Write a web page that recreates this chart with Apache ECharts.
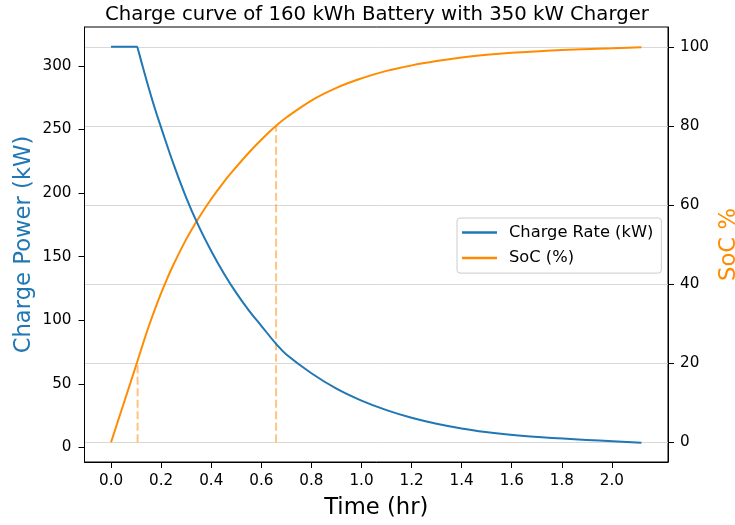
<!DOCTYPE html>
<html>
<head>
<meta charset="utf-8">
<script src="https://cdn.jsdelivr.net/npm/echarts@6/dist/echarts.min.js"></script>
<style>html,body{margin:0;padding:0;background:#fff}#c{width:735px;height:525px}</style>
</head>
<body>
<div id="c"></div>
<script>
// ---- data ----
const powerTime = [0, 0.105, 0.106, 0.125, 0.15, 0.175, 0.2, 0.25, 0.3, 0.35, 0.4, 0.45, 0.5, 0.55, 0.6, 0.659, 0.7, 0.8, 0.9, 1.0, 1.1, 1.2, 1.3, 1.4, 1.52, 1.72, 2.118];
const powerKW   = [315, 315, 315, 300.5, 283, 266.5, 251.5, 222.5, 196.5, 174, 154.5, 137, 121.5, 107.8, 95.6, 81.4, 73.0, 58.3, 46.2, 36.8, 29.3, 23.3, 18.6, 14.9, 11.5, 7.9, 3.7];
const socTime   = [0, 0.106, 0.125, 0.15, 0.175, 0.2, 0.225, 0.25, 0.3, 0.35, 0.4, 0.45, 0.5, 0.55, 0.6, 0.659, 0.7, 0.8, 0.9, 1.0, 1.1, 1.2, 1.3, 1.4, 1.5, 1.6, 1.8, 2.0, 2.118];
const socPct    = [0, 20.6, 24.4, 29.2, 33.6, 37.7, 41.5, 45.0, 51.3, 56.7, 61.5, 65.8, 69.6, 73.2, 76.5, 80, 82.1, 86.4, 89.6, 92, 93.9, 95.3, 96.4, 97.3, 98, 98.5, 99.2, 99.6, 99.9];
const markerTimes = [0.106, 0.659];
const markerSoC   = [20, 80];
const xTicks    = [0, 0.2, 0.4, 0.6, 0.8, 1.0, 1.2, 1.4, 1.6, 1.8, 2.0];
const kwTicks   = [0, 50, 100, 150, 200, 250, 300];
const socTicks  = [0, 20, 40, 60, 80, 100];
const titleText = 'Charge curve of 160 kWh Battery with 350 kW Charger';

const BLUE = '#1f77b4', ORANGE = '#ff8c00', FONT = 'DejaVu Sans';
const zip = (a, b) => a.map((v, i) => [v, b[i]]);

const markerSeries = markerTimes.map((t, i) => ({
  type: 'line', yAxisIndex: 1, symbol: 'none', silent: true,
  data: [[t, 0], [t, markerSoC[i]]],
  lineStyle: { color: ORANGE, opacity: 0.5, width: 2, type: [8, 3.5] },
  z: 1
}));

const chart = echarts.init(document.getElementById('c'), null, { renderer: 'canvas' });
chart.setOption({
  animation: false,
  textStyle: { fontFamily: FONT },
  title: {
    text: titleText, left: 100, top: 0,
    textStyle: { fontFamily: FONT, fontSize: 19.7, fontWeight: 'normal', color: '#000' }
  },
  grid: { left: 84.5, right: 67, top: 27, bottom: 63, outerBoundsMode: 'none', containLabel: false,
          show: true, borderColor: '#000', borderWidth: 1, backgroundColor: 'transparent' },
  legend: {
    orient: 'vertical', left: 457, top: 218, padding: [5, 8, 5.5, 5],
    itemWidth: 35, itemHeight: 2.5, itemGap: 6.6, icon: 'rect',
    backgroundColor: 'rgba(255,255,255,0.8)', borderColor: '#cccccc', borderWidth: 1, borderRadius: 3,
    textStyle: { fontFamily: FONT, fontSize: 16.3, color: '#000', lineHeight: 19, padding: [0, 0, 0, 7] },
    data: ['Charge Rate (kW)', 'SoC (%)']
  },
  xAxis: {
    type: 'value', min: -0.106, max: 2.224,
    name: 'Time (hr)', nameLocation: 'middle', nameGap: 35, nameMoveOverlap: false,
    nameTextStyle: { fontFamily: FONT, fontSize: 22.7, color: '#000' },
    axisLine: { show: true, onZero: false, lineStyle: { color: '#000', width: 1 } },
    axisTick: { show: true, length: 6, lineStyle: { color: '#000' }, customValues: xTicks },
    axisLabel: { fontFamily: FONT, fontSize: 15.2, color: '#000', margin: 12, customValues: xTicks, formatter: v => v.toFixed(1) },
    splitLine: { show: false }
  },
  yAxis: [{
    type: 'value', position: 'left', min: -11.5, max: 330.6,
    name: 'Charge Power (kW)', nameLocation: 'middle', nameGap: 49, nameRotate: 90, nameMoveOverlap: false,
    nameTextStyle: { fontFamily: FONT, fontSize: 22.7, color: BLUE },
    axisLine: { show: true, onZero: false, lineStyle: { color: '#000', width: 1 } },
    axisTick: { show: true, length: 6, lineStyle: { color: '#000' }, customValues: kwTicks },
    axisLabel: { fontFamily: FONT, fontSize: 15.2, color: '#000', margin: 13, customValues: kwTicks },
    splitLine: { show: false }
  }, {
    type: 'value', position: 'right', min: -5, max: 105,
    name: 'SoC %', nameLocation: 'middle', nameGap: 49.5, nameRotate: 90, nameMoveOverlap: false,
    nameTextStyle: { fontFamily: FONT, fontSize: 22.7, color: ORANGE },
    axisLine: { show: true, onZero: false, lineStyle: { color: '#000', width: 1 } },
    axisTick: { show: true, length: 6, lineStyle: { color: '#000' }, customValues: socTicks },
    axisLabel: { fontFamily: FONT, fontSize: 15.2, color: '#000', margin: 12, customValues: socTicks },
    splitLine: { show: true, lineStyle: { color: '#d8d8d8', width: 1 } }
  }],
  series: [{
    name: 'Charge Rate (kW)', type: 'line', yAxisIndex: 0, symbol: 'none',
    smooth: 0.4, data: zip(powerTime, powerKW),
    lineStyle: { color: BLUE, width: 2 }, itemStyle: { color: BLUE }, z: 3
  }, {
    name: 'SoC (%)', type: 'line', yAxisIndex: 1, symbol: 'none',
    smooth: 0.4, data: zip(socTime, socPct),
    lineStyle: { color: ORANGE, width: 2 }, itemStyle: { color: ORANGE }, z: 2
  }].concat(markerSeries)
});
</script>
</body>
</html>
